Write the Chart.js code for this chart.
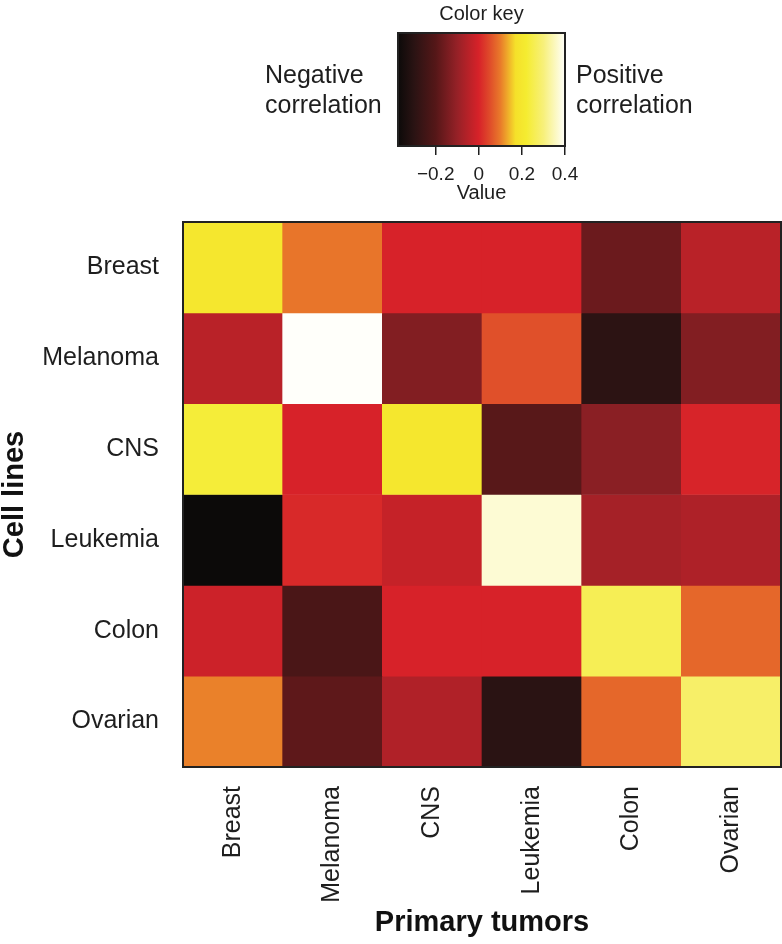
<!DOCTYPE html>
<html lang="en">
<head>
<meta charset="UTF-8" />
<title>Cell lines vs primary tumors</title>
<script src="https://cdn.jsdelivr.net/npm/chart.js@4.4.0/dist/chart.umd.min.js"></script>
<style>
  html, body { margin: 0; padding: 0; background: #fff; }
  body { width: 782px; height: 944px; position: relative; overflow: hidden; font-family: 'Liberation Sans', Arial, sans-serif; color: #1e1e1e; }
  canvas { position: absolute; left: 0; top: 0; }
  .side { position: absolute; top: 59px; font-size: 25px; line-height: 30px; color: #1e1e1e; }
</style>
</head>
<body>

<canvas id="heat" width="782" height="944"></canvas>
<canvas id="key" width="782" height="210"></canvas>
<div class="side" style="left:265px">Negative<br>correlation</div>
<div class="side" style="left:576px">Positive<br>correlation</div>

<script>
// rows = cell lines, columns = primary tumors
const rowLabels = ['Breast', 'Melanoma', 'CNS', 'Leukemia', 'Colon', 'Ovarian'];
const colLabels = ['Breast', 'Melanoma', 'CNS', 'Leukemia', 'Colon', 'Ovarian'];

const breastRow   = [ 0.20,   0.095,  0.0,   0.0,   -0.166, -0.046];
const melanomaRow = [-0.046,  0.40,  -0.131, 0.055, -0.295, -0.131];
const cnsRow      = [ 0.23,   0.0,    0.20, -0.195, -0.118,  0.003];
const leukemiaRow = [-0.375,  0.008, -0.028, 0.37,  -0.077, -0.063];
const colonRow    = [-0.017, -0.226,  0.0,   0.0,    0.26,   0.08];
const ovarianRow  = [ 0.105, -0.186, -0.06, -0.30,   0.08,   0.28];
const values = [breastRow, melanomaRow, cnsRow, leukemiaRow, colonRow, ovarianRow];

// colour key
const keyMin = -0.375, keyMax = 0.4;
const keyTicks = [-0.2, 0, 0.2, 0.4];
const keyStops  = [-0.375,    -0.3,      -0.2,      -0.1,      0.0,       0.05,      0.1,       0.17,      0.22,      0.3,       0.4];
const keyColors = ['#0c0a09', '#2a1313', '#551718', '#962127', '#d72229', '#df4b2a', '#e97a2a', '#f5e02a', '#f5ec30', '#f7f07a', '#fffffa'];

function hexRgb(h) {
  return [1, 3, 5].map(i => parseInt(h.slice(i, i + 2), 16));
}

function colorFor(v) {
  if (v <= keyStops[0]) return keyColors[0];
  for (let i = 1; i < keyStops.length; i++) {
    if (v <= keyStops[i]) {
      const t = (v - keyStops[i - 1]) / (keyStops[i] - keyStops[i - 1]);
      const a = hexRgb(keyColors[i - 1]), b = hexRgb(keyColors[i]);
      const c = a.map((x, k) => Math.round(x + (b[k] - x) * t));
      return `rgb(${c.join(',')})`;
    }
  }
  return keyColors[keyColors.length - 1];
}

const frame = {
  id: 'frame',
  afterDatasetsDraw(chart) {
    const { ctx, chartArea: a } = chart;
    ctx.save();
    ctx.strokeStyle = '#222';
    ctx.lineWidth = 2;
    ctx.strokeRect(a.left, a.top, a.right - a.left, a.bottom - a.top);
    ctx.restore();
  },
};

const txt = '#1e1e1e';

// Heatmap: one floating bar per cell, one dataset per row
new Chart(document.getElementById('heat'), {
  type: 'bar',
  data: {
    labels: colLabels,
    datasets: values.map((row, r) => ({
      label: rowLabels[r],
      data: row.map(() => [r, r + 1]),
      backgroundColor: row.map(colorFor),
      borderWidth: 0,
      barPercentage: 1,
      categoryPercentage: 1,
      grouped: false,
    })),
  },
  options: {
    responsive: false,
    animation: false,
    layout: { padding: { top: 222, right: 1, left: 0, bottom: 0 } },
    plugins: { legend: { display: false }, tooltip: { enabled: false } },
    scales: {
      x: {
        grid: { display: false },
        border: { display: false },
        ticks: { color: txt, font: { size: 25 }, padding: 11, minRotation: 90, maxRotation: 90 },
        title: { display: true, text: 'Primary tumors', color: '#111', font: { size: 29, weight: 'bold', lineHeight: 1 }, padding: { top: 0, bottom: 7 } },
        afterFit(s) { s.height = 177; },
      },
      y: {
        min: 0, max: rowLabels.length, reverse: true,
        grid: { display: false, drawTicks: false },
        border: { display: false },
        afterBuildTicks(s) { s.ticks = rowLabels.map((_, i) => ({ value: i + 0.5 })); },
        ticks: { color: txt, font: { size: 25 }, padding: 24, callback: v => rowLabels[Math.floor(v)] },
        title: { display: true, text: 'Cell lines', color: '#111', font: { size: 29, weight: 'bold', lineHeight: 1 }, padding: 0 },
        afterFit(s) { s.width = 183; },
      },
    },
  },
  plugins: [frame],
});

// Colour key: a single bar filled with the colour ramp
new Chart(document.getElementById('key'), {
  type: 'bar',
  data: {
    labels: ['key'],
    datasets: [{
      data: [[keyMin, keyMax]],
      barPercentage: 1,
      categoryPercentage: 1,
      borderWidth: 0,
      backgroundColor(ctx) {
        const chart = ctx.chart, x = chart.scales.x;
        if (!chart.chartArea || !x) return colorFor(0);
        const g = chart.ctx.createLinearGradient(x.getPixelForValue(keyMin), 0, x.getPixelForValue(keyMax), 0);
        keyStops.forEach((s, i) => g.addColorStop((s - keyMin) / (keyMax - keyMin), keyColors[i]));
        return g;
      },
    }],
  },
  options: {
    indexAxis: 'y',
    responsive: false,
    animation: false,
    layout: { padding: { top: 0, left: 398, right: 217, bottom: 0 } },
    plugins: {
      legend: { display: false },
      tooltip: { enabled: false },
      title: { display: true, text: 'Color key', color: txt, font: { size: 20, weight: 'normal', lineHeight: 1.2 }, padding: { top: 2, bottom: 7 } },
    },
    scales: {
      x: {
        min: keyMin, max: keyMax,
        afterBuildTicks(s) { s.ticks = keyTicks.map(v => ({ value: v })); },
        grid: { drawOnChartArea: false, drawTicks: true, tickLength: 9, color: txt, lineWidth: 1.5 },
        border: { display: false },
        ticks: { color: txt, font: { size: 19 }, padding: 8, maxRotation: 0,
                 callback: v => (v < 0 ? '\u2212' + Math.abs(v) : String(v)) },
        title: { display: true, text: 'Value', color: txt, font: { size: 20, lineHeight: 1 }, padding: { top: 0, bottom: 7 } },
        afterFit(s) { s.height = 64; },
      },
      y: { display: false },
    },
  },
  plugins: [frame],
});
</script>
</body>
</html>
